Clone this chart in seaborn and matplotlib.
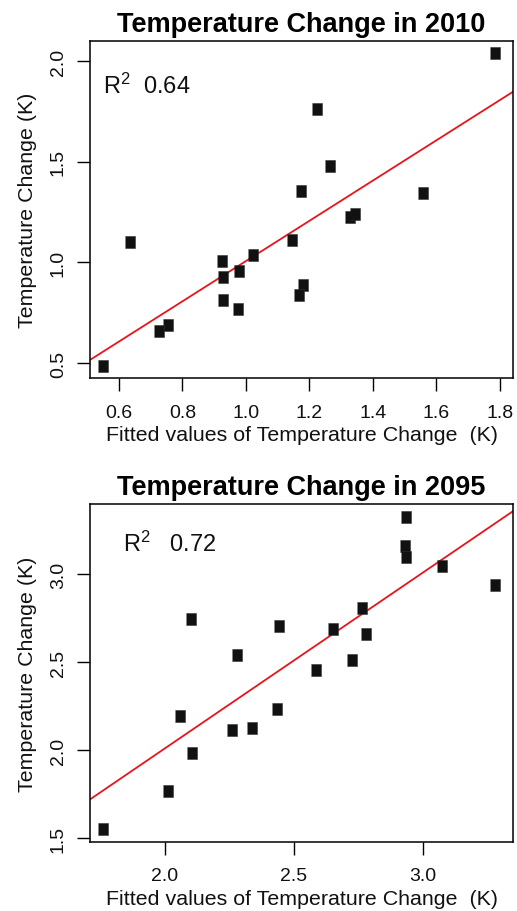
import matplotlib
matplotlib.use("Agg")
import matplotlib.pyplot as plt
import seaborn as sns
import numpy as np
import pandas as pd

# ---- data ----
x2010 = [1.784, 1.224, 1.264, 1.173, 1.558, 1.327, 1.344, 0.636, 1.144, 1.022,
         0.925, 0.979, 0.928, 1.181, 1.168, 0.929, 0.974, 0.755, 0.727, 0.549]
y2010 = [2.041, 1.762, 1.480, 1.354, 1.343, 1.228, 1.240, 1.103, 1.111, 1.038,
         1.005, 0.955, 0.927, 0.889, 0.840, 0.813, 0.767, 0.691, 0.657, 0.485]
x2095 = [2.935, 2.931, 2.933, 3.074, 3.279, 2.765, 2.100, 2.443, 2.651, 2.779,
         2.279, 2.725, 2.585, 2.434, 2.059, 2.261, 2.337, 2.106, 2.010, 1.760]
y2095 = [3.325, 3.161, 3.095, 3.045, 2.936, 2.807, 2.745, 2.703, 2.688, 2.661,
         2.539, 2.514, 2.455, 2.232, 2.194, 2.113, 2.124, 1.982, 1.768, 1.551]
r2_values = ["0.64", "0.72"]
titles = ["Temperature Change in 2010", "Temperature Change in 2095"]
xticks_list = [[0.6, 0.8, 1.0, 1.2, 1.4, 1.6, 1.8], [2.0, 2.5, 3.0]]
yticks_list = [[0.5, 1.0, 1.5, 2.0], [1.5, 2.0, 2.5, 3.0]]
xlabel = "Fitted values of Temperature Change  (K)"
ylabel = "Temperature Change (K)"

sns.set_style("ticks")
plt.rcParams["font.family"] = ["Liberation Sans", "DejaVu Sans"]
plt.rcParams["mathtext.default"] = "regular"
plt.rcParams["text.color"] = "black"
plt.rcParams["axes.labelcolor"] = "black"

W, H = 517, 912
fig = plt.figure(figsize=(W / 100, H / 100), dpi=100)

def box(l, t, r, b):
    return [l / W, 1 - b / H, (r - l) / W, (b - t) / H]

axes = [fig.add_axes(box(89.7, 41.7, 513.3, 379.0)),
        fig.add_axes(box(89.7, 505.0, 513.3, 842.7))]
limits = [((0.5077, 1.842), (0.4255, 2.102)), ((1.708, 3.35), (1.481, 3.397))]
r2_pos = [(0.032, 0.845, "R$^{2}$  "), (0.079, 0.86, "R$^{2}$   ")]

marker = [(-0.75, -1.0), (0.75, -1.0), (0.75, 1.0), (-0.75, 1.0)]
data = [(x2010, y2010), (x2095, y2095)]

for i, ax in enumerate(axes):
    xs, ys = data[i]
    df = pd.DataFrame({"fitted": xs, "observed": ys})
    (xl, yl) = limits[i]
    ax.set_xlim(*xl)
    ax.set_ylim(*yl)
    sns.regplot(data=df, x="fitted", y="observed", ax=ax, ci=None, truncate=False,
                marker=marker,
                scatter_kws=dict(s=85, color="#111111", edgecolors="#333333",
                                 linewidths=0.4, alpha=1, zorder=3),
                line_kws=dict(color="#e8141c", lw=1.3, zorder=2))
    ax.set_xlim(*xl)
    ax.set_ylim(*yl)
    ax.set_xticks(xticks_list[i])
    ax.set_yticks(yticks_list[i])
    ax.set_xticklabels([f"{v:.1f}" for v in xticks_list[i]])
    ax.set_yticklabels([f"{v:.1f}" for v in yticks_list[i]])
    for sp in ax.spines.values():
        sp.set_visible(True)
        sp.set_color("black")
        sp.set_linewidth(1.1)
    ax.tick_params(axis="both", direction="out", length=9.5, width=1.0,
                   color="black", labelsize=14, labelcolor="#111111")
    ax.tick_params(axis="x", pad=9)
    ax.tick_params(axis="y", pad=7, labelrotation=90)
    for lab in ax.get_yticklabels():
        lab.set_va("center")
    ax.set_xlabel(xlabel, fontsize=15.4, labelpad=3, color="#111111")
    ax.set_ylabel(ylabel, fontsize=15.4, labelpad=9, color="#111111")
    ax.set_title(titles[i], fontsize=19.5, fontweight="bold", pad=7, color="black")
    px, py, pre = r2_pos[i]
    ax.text(px, py, pre + r2_values[i], transform=ax.transAxes, fontsize=17,
            ha="left", va="baseline", color="#111111")
    ax.grid(False)

fig.savefig("out.png", dpi=100)
